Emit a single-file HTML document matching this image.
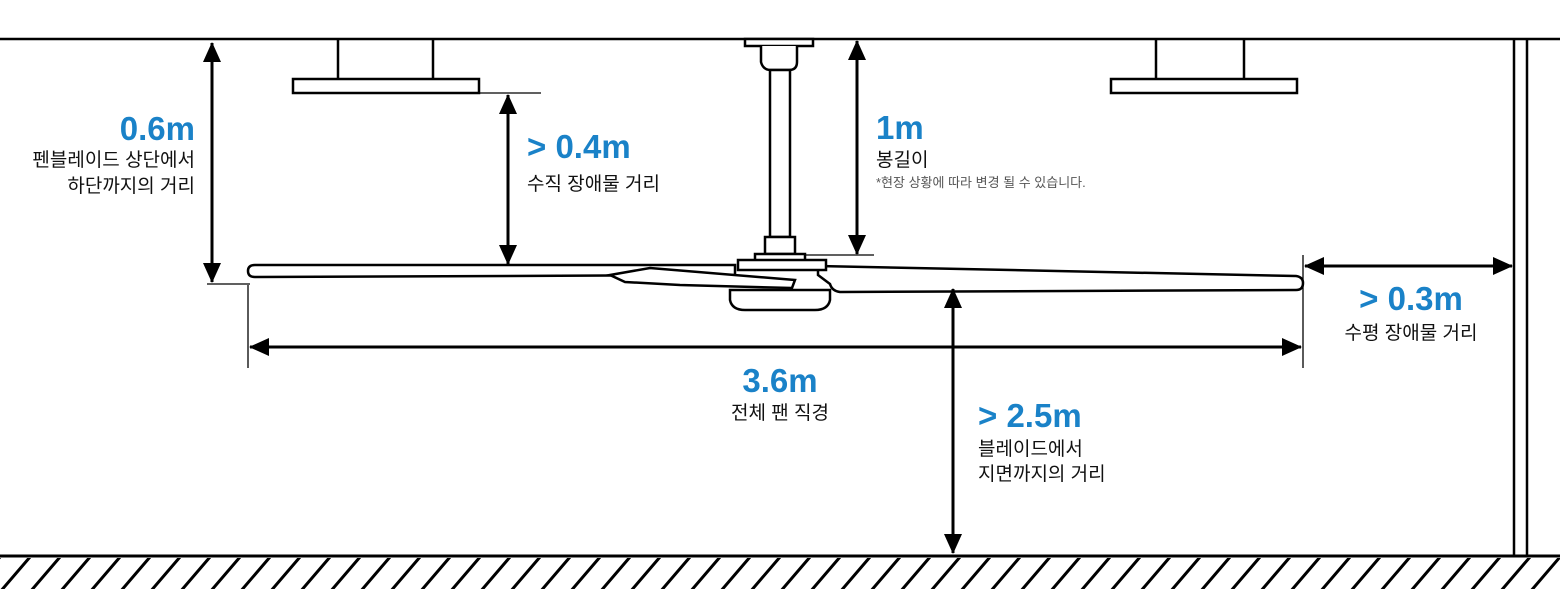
<!DOCTYPE html>
<html><head><meta charset="utf-8"><style>
html,body{margin:0;padding:0;background:#fff;width:1560px;height:589px;overflow:hidden}
svg{display:block}
.b{font-family:"Liberation Sans","Noto Sans CJK KR",sans-serif;font-weight:bold;fill:#1a82c8;font-size:33px}
.k{font-family:"Liberation Sans","Noto Sans CJK KR",sans-serif;fill:#111;font-size:19px}
.n{font-family:"Liberation Sans","Noto Sans CJK KR",sans-serif;fill:#555;font-size:13px}
</style></head><body>
<svg width="1560" height="589" viewBox="0 0 1560 589" xmlns="http://www.w3.org/2000/svg">
<defs>
<marker id="A" viewBox="0 0 20 20" refX="19" refY="10" markerWidth="20" markerHeight="20" orient="auto-start-reverse" markerUnits="userSpaceOnUse"><path d="M0,1 L20,10 L0,19 z" fill="#000"/></marker>
<clipPath id="fl"><rect x="0" y="558" width="1560" height="31"/></clipPath>
</defs>
<g stroke="#000" fill="none">
<line x1="0" y1="39" x2="1560" y2="39" stroke-width="2.5"/>
<line x1="1514" y1="39" x2="1514" y2="555" stroke-width="2.5"/>
<line x1="1527" y1="39" x2="1527" y2="555" stroke-width="2.5"/>
<line x1="0" y1="556" x2="1560" y2="556" stroke-width="3"/>
<g clip-path="url(#fl)" stroke-width="3">
<path d="M-30,592 L0,557 M0,592 L30,557 M30,592 L60,557 M60,592 L90,557 M90,592 L120,557 M120,592 L150,557 M150,592 L180,557 M180,592 L210,557 M210,592 L240,557 M240,592 L270,557 M270,592 L300,557 M300,592 L330,557 M330,592 L360,557 M360,592 L390,557 M390,592 L420,557 M420,592 L450,557 M450,592 L480,557 M480,592 L510,557 M510,592 L540,557 M540,592 L570,557 M570,592 L600,557 M600,592 L630,557 M630,592 L660,557 M660,592 L690,557 M690,592 L720,557 M720,592 L750,557 M750,592 L780,557 M780,592 L810,557 M810,592 L840,557 M840,592 L870,557 M870,592 L900,557 M900,592 L930,557 M930,592 L960,557 M960,592 L990,557 M990,592 L1020,557 M1020,592 L1050,557 M1050,592 L1080,557 M1080,592 L1110,557 M1110,592 L1140,557 M1140,592 L1170,557 M1170,592 L1200,557 M1200,592 L1230,557 M1230,592 L1260,557 M1260,592 L1290,557 M1290,592 L1320,557 M1320,592 L1350,557 M1350,592 L1380,557 M1380,592 L1410,557 M1410,592 L1440,557 M1440,592 L1470,557 M1470,592 L1500,557 M1500,592 L1530,557 M1530,592 L1560,557 M1560,592 L1590,557"/>
</g>
<g stroke-width="2.5">
<line x1="338" y1="39" x2="338" y2="79"/><line x1="433" y1="39" x2="433" y2="79"/>
<rect x="293" y="79" width="186" height="14"/>
<line x1="1156" y1="39" x2="1156" y2="79"/><line x1="1244" y1="39" x2="1244" y2="79"/>
<rect x="1111" y="79" width="186" height="14"/>
</g>
<g stroke-width="2.5" fill="#fff">
<rect x="745" y="39" width="68" height="7"/>
<path d="M761,46 L761,62 Q763,70 771,70 L789,70 Q797,70 797,62 L797,46"/>
<rect x="770" y="70" width="20" height="167"/>
<rect x="765" y="237" width="30" height="17"/>
<rect x="755" y="254" width="50" height="8"/>
<path d="M730,290 L830,290 L830,300 Q828,310 815,310 L745,310 Q732,310 730,300 Z"/>
<path d="M818,266 L1296,276 Q1303,277 1303,283 Q1303,290 1296,290 L840,292 Q832,291 830,284 L818,275 Z"/>
<path d="M255,265 L735,265 L735,275 L255,277 Q248,277 248,271 Q248,265 255,265 Z"/>
<path d="M610,275 L650,268 L795,280 L792,288 L680,285 L625,282 Z"/>
<rect x="738" y="260" width="88" height="10" />
</g>
<g stroke-width="1.3">
<line x1="207" y1="284" x2="250" y2="284"/>
<line x1="479" y1="93" x2="541" y2="93"/>
<line x1="805" y1="255" x2="874" y2="255"/>
<line x1="248" y1="285" x2="248" y2="368"/>
<line x1="1303" y1="255" x2="1303" y2="368"/>
</g>
<g stroke-width="3">
<line x1="212" y1="43" x2="212" y2="282" marker-start="url(#A)" marker-end="url(#A)"/>
<line x1="508" y1="95" x2="508" y2="264" marker-start="url(#A)" marker-end="url(#A)"/>
<line x1="857" y1="41" x2="857" y2="254" marker-start="url(#A)" marker-end="url(#A)"/>
<line x1="250" y1="347" x2="1301" y2="347" marker-start="url(#A)" marker-end="url(#A)"/>
<line x1="953" y1="289" x2="953" y2="553" marker-start="url(#A)" marker-end="url(#A)"/>
<line x1="1305" y1="266" x2="1512" y2="266" marker-start="url(#A)" marker-end="url(#A)"/>
</g>
</g>
<text class="b" x="195" y="140" text-anchor="end">0.6m</text>
<text class="k" x="195" y="166" text-anchor="end">펜블레이드 상단에서</text>
<text class="k" x="195" y="192" text-anchor="end">하단까지의 거리</text>
<text class="b" x="527" y="158">&gt; 0.4m</text>
<text class="k" x="527" y="190">수직 장애물 거리</text>
<text class="b" x="876" y="139">1m</text>
<text class="k" x="876" y="166">봉길이</text>
<text class="n" x="876" y="187">*현장 상황에 따라 변경 될 수 있습니다.</text>
<text class="b" x="780" y="392" text-anchor="middle">3.6m</text>
<text class="k" x="780" y="419" text-anchor="middle">전체 팬 직경</text>
<text class="b" x="978" y="427">&gt; 2.5m</text>
<text class="k" x="978" y="455">블레이드에서</text>
<text class="k" x="978" y="480">지면까지의 거리</text>
<text class="b" x="1411" y="310" text-anchor="middle">&gt; 0.3m</text>
<text class="k" x="1411" y="339" text-anchor="middle">수평 장애물 거리</text>
</svg>
</body></html>
